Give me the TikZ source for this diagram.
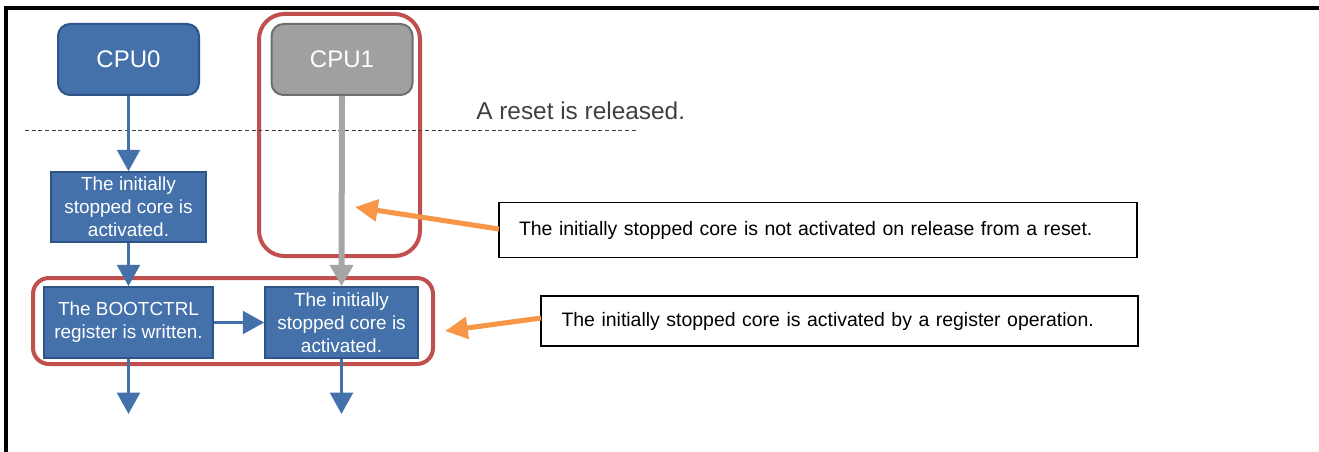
\documentclass[tikz,border=0pt]{standalone}
\usepackage{fontspec}
\setmainfont{Liberation Sans}
\usetikzlibrary{arrows.meta}
\definecolor{bfill}{HTML}{4471AA}
\definecolor{bdraw}{HTML}{2E5488}
\definecolor{gfill}{HTML}{A0A0A0}
\definecolor{gdraw}{HTML}{6E6E6E}
\definecolor{redc}{HTML}{C0504D}
\definecolor{orc}{HTML}{F79646}
\definecolor{garrow}{HTML}{A6A6A6}
\definecolor{txtgray}{HTML}{404040}
\begin{document}
\begin{tikzpicture}[x=0.75pt,y=-0.75pt,
  cpubox/.style={draw=bdraw,fill=bfill,line width=1.5pt,rounded corners=9pt,
    minimum width=141*0.75pt,minimum height=71*0.75pt,inner sep=0pt,
    text=white,font=\fontsize{18}{21}\selectfont},
  cpugray/.style={cpubox,draw=gdraw,fill=gfill},
  stepbox/.style={draw=bdraw,fill=bfill,line width=1.2pt,inner sep=0pt,
    text=white,align=center,font=\fontsize{14.2}{17.2}\selectfont},
  callout/.style={draw=black,line width=0.8pt,inner sep=0pt,
    text=black,align=left,font=\fontsize{14.6}{17}\selectfont},
  redframe/.style={draw=redc,line width=3pt},
  blarrow/.style={draw=bfill,line width=2.4pt,
    -{Triangle[width=17pt,length=16pt]}},
  grarrow/.style={draw=garrow,line width=4.5pt,
    -{Triangle[width=17pt,length=16pt]}},
  orarrow/.style={draw=orc,line width=3.8pt,
    -{Triangle[width=16pt,length=17pt]}}
]
\useasboundingbox (0,0) rectangle (1319,452);
% outer frame
\draw[line width=2.4pt,line cap=rect] (6,452) -- (6,8) -- (1319,8);

% red frames
\draw[redframe,rounded corners=19pt] (259,14) rectangle (420,256);
\draw[redframe,rounded corners=12pt] (33,278) rectangle (433,364);

% dashed line and label
\coordinate (dl) at (25,130);
\coordinate (dr) at (637,130);
\draw[line width=0.6pt,dash pattern=on 3pt off 2pt,draw=black!75] (dl) -- (dr);
\node[text=txtgray,font=\fontsize{18.3}{21}\selectfont,anchor=west,inner sep=0pt] (reset) at (476,111) {A reset is released.};

% nodes
\node[cpubox] (cpu0) at (128.5,59.5) {CPU0};
\node[cpugray] (cpu1) at (342,59.5) {CPU1};
\node[stepbox,minimum width=155*0.75pt,minimum height=70*0.75pt] (act0) at (128.5,207)
  {The initially\\stopped core is\\activated.};
\node[stepbox,minimum width=169*0.75pt,minimum height=71*0.75pt] (boot) at (128.5,322.5)
  {The BOOTCTRL\\register is written.};
\node[stepbox,minimum width=153*0.75pt,minimum height=71*0.75pt] (act1) at (341.5,322.5)
  {The initially\\stopped core is\\activated.};

% callouts
\node[callout,minimum width=638*0.75pt,minimum height=55*0.75pt,
  text width=598*0.75pt] (c1) at (818,230)
  {The initially stopped core is not activated on release from a reset.};
\node[callout,minimum width=597*0.75pt,minimum height=50*0.75pt,
  text width=556*0.75pt] (c2) at (839.5,321)
  {The initially stopped core is activated by a register operation.};

% connectors
\coordinate (end0) at (128.5,414);
\coordinate (end1) at (341.5,414);
\draw[grarrow] (cpu1.south) -- (act1.north);
\draw[blarrow] (cpu0.south) -- (act0.north);
\draw[blarrow] (act0.south) -- (boot.north);
\draw[blarrow] (boot.east) -- (act1.west);
\draw[blarrow] (boot.south) -- (end0);
\draw[blarrow] (act1.south) -- (end1);

\coordinate (tip1) at (355,207);
\coordinate (tip2) at (445,331);
\coordinate (s1) at (499,229);
\coordinate (s2) at (541,318);
\draw[orarrow] (s1) -- (tip1);
\draw[orarrow] (s2) -- (tip2);
\end{tikzpicture}
\end{document}
